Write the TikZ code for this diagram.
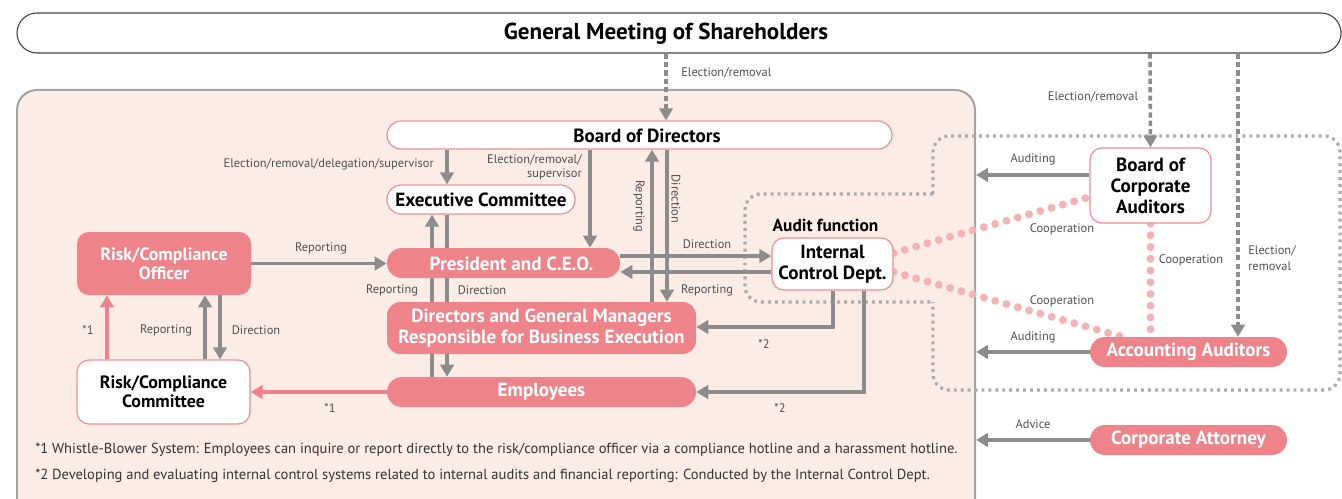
\documentclass[tikz,border=0pt]{standalone}
\usepackage{fontspec}
\setmainfont{PT Sans}
\usetikzlibrary{arrows.meta}
\definecolor{pinkfill}{HTML}{EE848A}
\definecolor{panelfill}{HTML}{FCECE6}
\definecolor{panelline}{HTML}{A3A3A3}
\definecolor{agray}{HTML}{8C8C8C}
\definecolor{dpink}{HTML}{F3B3B3}
\definecolor{pborder}{HTML}{EF8D92}
\definecolor{dgray}{HTML}{ABABAB}
\definecolor{tgray}{HTML}{505050}
\pgfdeclarelayer{panel}
\pgfdeclarelayer{links}
\pgfsetlayers{panel,links,main}
\tikzset{
 boxfont/.style={font=\bfseries\fontsize{14.3}{15.75}\selectfont},
 whitebox/.style={draw=pborder, line width=0.9pt, fill=white, text=black, boxfont, inner sep=0pt, align=center},
 pinkbox/.style={fill=pinkfill, text=white, boxfont, inner sep=0pt, align=center},
 garrow/.style={draw=agray, line width=2.6pt, -{Triangle[length=9pt,width=10pt]}},
 parrow/.style={draw=pinkfill, line width=2.6pt, -{Triangle[length=9pt,width=10pt]}},
 darrow/.style={draw=agray, line width=2.7pt, dash pattern=on 3.9pt off 2.4pt, -{Triangle[length=9pt,width=10pt]}},
 coop/.style={draw=dpink, line width=6pt, line cap=round, dash pattern=on 0pt off 8.8pt},
 outline/.style={draw=dgray, line width=2.4pt, dash pattern=on 2.2pt off 3pt},
 lbl/.style={font=\fontsize{9.3}{10.5}\selectfont, text=tgray, inner sep=0pt},
 note/.style={font=\fontsize{10.9}{12}\selectfont, text=black!80, inner sep=0pt, anchor=west},
}
\begin{document}
\begin{tikzpicture}[x=0.75pt,y=-0.75pt]
\useasboundingbox (0,0) rectangle (1342,499);
\clip (0,0) rectangle (1342,499);
% helper columns / rows
\coordinate (c107) at (107,0); \coordinate (c205) at (205,0); \coordinate (c220) at (220,0);
\coordinate (c432) at (432,0); \coordinate (c447) at (447,0); \coordinate (c590) at (590,0);
\coordinate (c652) at (652,0); \coordinate (c666) at (666,0); \coordinate (c667) at (667,0);
\coordinate (c833) at (833,0); \coordinate (c864) at (864,0); \coordinate (c1122) at (1122,0);
\coordinate (c1150) at (1150,0); \coordinate (c1238) at (1238,0);
\coordinate (y175) at (0,175); \coordinate (y197) at (0,197); \coordinate (y253) at (0,253);
\coordinate (y256) at (0,256); \coordinate (y272) at (0,272); \coordinate (y327) at (0,327);

\begin{pgfonlayer}{panel}
\fill[white] (0,0) rectangle (1342,499);
\node[draw=panelline, line width=1.5pt, fill=panelfill, minimum width=718.5pt, minimum height=322.5pt, rounded corners=15pt, inner sep=0pt] (panel) at (496,305) {};
\draw[outline, rounded corners=12pt] (933,194) -- (933,136) -- (1340,136) -- (1340,390) -- (933,390) -- (933,302);
\draw[outline, rounded corners=12pt] (933,194) -- (745,194) -- (745,302) -- (933,302);
\end{pgfonlayer}

% nodes
\node[draw=black!75, line width=0.8pt, fill=white, minimum width=993pt, minimum height=30pt, rounded corners=15pt, inner sep=0pt] (gm) at (679,33) {};
\node[font=\bfseries\fontsize{17.3}{19}\selectfont, inner sep=0pt] (gmtext) at (666,34) {General Meeting of Shareholders};

\node[whitebox, minimum width=378.75pt, minimum height=21pt, rounded corners=10.5pt] (bod) at (639.5,135) {};
\node[boxfont, inner sep=0pt] (bodtext) at (647,136) {Board of Directors};
\node[whitebox, minimum width=141pt, minimum height=21.75pt, rounded corners=10.8pt] (exec) at (481,199.5) {Executive Committee};
\node[pinkbox, minimum width=174.75pt, minimum height=22.5pt, rounded corners=11.2pt] (pres) at (503.5,263) {};
\node[boxfont, text=white, inner sep=0pt] (prestext) at (511.5,264) {President and C.E.O.};
\node[pinkbox, minimum width=231.75pt, minimum height=39pt, rounded corners=10pt] (dgm) at (541.5,328) {Directors and General Managers\\Responsible for Business Execution};
\node[pinkbox, minimum width=231.75pt, minimum height=22.5pt, rounded corners=11.2pt] (emp) at (541.5,392) {Employees};
\node[pinkbox, minimum width=130.5pt, minimum height=47.25pt, rounded corners=9pt, font=\bfseries\fontsize{13.4}{14.25}\selectfont] (rco) at (164,263.5) {Risk/Compliance\\Officer};
\node[whitebox, minimum width=129.75pt, minimum height=48pt, rounded corners=9pt, font=\bfseries\fontsize{13.4}{14.5}\selectfont] (rcc) at (163.5,392) {Risk/Compliance\\Committee};
\node[whitebox, minimum width=90.75pt, minimum height=39pt, rounded corners=9pt] (ic) at (832.5,264) {Internal\\Control Dept.};
\node[font=\bfseries\fontsize{13}{14}\selectfont, inner sep=0pt] (audf) at (825.5,225) {Audit function};
\node[whitebox, minimum width=90.75pt, minimum height=56.25pt, rounded corners=9pt] (boca) at (1150.5,185.5) {Board of\\Corporate\\Auditors};
\node[pinkbox, minimum width=147.75pt, minimum height=22.5pt, rounded corners=11.2pt] (acc) at (1188.5,352) {Accounting Auditors};
\node[pinkbox, minimum width=147.75pt, minimum height=22.5pt, rounded corners=11.2pt] (att) at (1188.5,440) {Corporate Attorney};

% connectors
\begin{pgfonlayer}{links}
\draw[darrow] (gm.south -| c666) -- (bod.north -| c666);
\draw[garrow] (bod.south -| c447) -- (exec.north -| c447);
\draw[garrow] (bod.south -| c590) -- (pres.north -| c590);
\draw[garrow] (dgm.north -| c652) -- (bod.south -| c652);
\draw[garrow] (bod.south -| c667) -- (dgm.north -| c667);
\draw[garrow] (emp.north -| c432) -- (exec.south -| c432);
\draw[garrow] (exec.south -| c447) -- (emp.north -| c447);
\draw[garrow] (pres.east |- y256) -- (ic.west |- y256);
\draw[garrow] (ic.west |- y272) -- (pres.east |- y272);
\draw[garrow] (rco.east) -- (rco.east -| pres.west);
\draw[parrow] (rcc.north -| c107) -- (rco.south -| c107);
\draw[garrow] (rcc.north -| c205) -- (rco.south -| c205);
\draw[garrow] (rco.south -| c220) -- (rcc.north -| c220);
\draw[parrow] (emp.west) -- (emp.west -| rcc.east);
\draw[garrow] (ic.south -| c833) |- (dgm.east |- y327);
\draw[garrow] (ic.south -| c864) |- (emp.east);
\draw[garrow] (boca.west |- y175) -- (panel.east |- y175);
\draw[garrow] (acc.west) -- (acc.west -| panel.east);
\draw[garrow] (att.west) -- (att.west -| panel.east);
\draw[darrow] (gm.south -| c1150) -- (boca.north);
\draw[darrow] (gm.south -| c1238) -- (acc.north -| c1238);
\draw[coop] (ic.east |- y253) -- (boca.west |- y197);
\draw[coop] (ic.east |- y272) -- (acc.north -| c1122);
\draw[coop] (boca.south) -- (acc.north -| boca.south);
\end{pgfonlayer}

% labels
\node[lbl, anchor=west] (l1) at (681,73) {Election/removal};
\node[lbl, anchor=east] (l2) at (434,164) {Election/removal/delegation/supervisor};
\node[lbl, anchor=east, align=right] (l3) at (582,167) {Election/removal/\\supervisor};
\node[lbl, rotate=-90] (l4) at (639,206) {Reporting};
\node[lbl, rotate=-90] (l5) at (676,199) {Direction};
\node[lbl] (l6) at (707,244) {Direction};
\node[lbl] (l7) at (707,290) {Reporting};
\node[lbl] (l8) at (392,290) {Reporting};
\node[lbl] (l9) at (482,290) {Direction};
\node[lbl] (l10) at (321,248) {Reporting};
\node[lbl] (l11) at (88,330) {*1};
\node[lbl] (l12) at (166,330) {Reporting};
\node[lbl] (l13) at (256,330) {Direction};
\node[lbl] (l14) at (330,408) {*1};
\node[lbl] (l15) at (764,344) {*2};
\node[lbl] (l16) at (780,408) {*2};
\node[lbl] (l17) at (1093,97) {Election/removal};
\node[lbl] (l18) at (1033,159) {Auditing};
\node[lbl] (l19) at (1062,229) {Cooperation};
\node[lbl] (l20) at (1191,260) {Cooperation};
\node[lbl, anchor=west, align=left, font=\fontsize{9.3}{12}\selectfont] (l21) at (1248,258) {Election/\\removal};
\node[lbl] (l22) at (1062,301) {Cooperation};
\node[lbl] (l23) at (1033,337) {Auditing};
\node[lbl] (l24) at (1033,424) {Advice};
\node[note] (n1) at (35,450) {*1 Whistle-Blower System: Employees can inquire or report directly to the risk/compliance officer via a compliance hotline and a harassment hotline.};
\node[note] (n2) at (35,476) {*2 Developing and evaluating internal control systems related to internal audits and financial reporting: Conducted by the Internal Control Dept.};
\end{tikzpicture}
\end{document}
